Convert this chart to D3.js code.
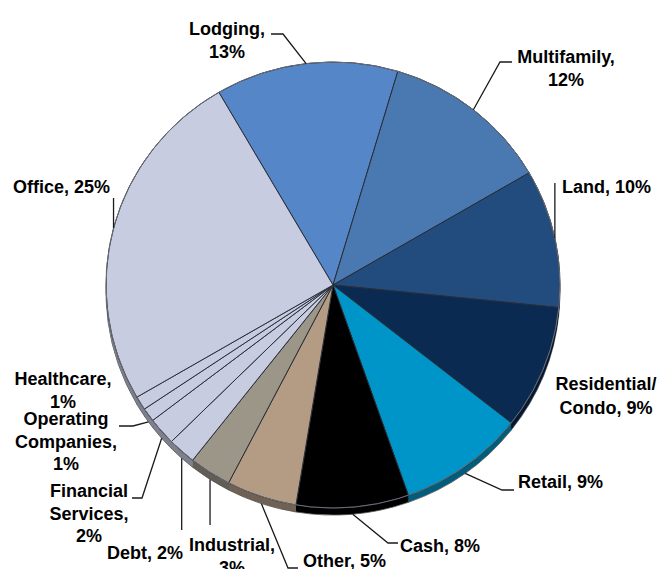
<!DOCTYPE html>
<html lang="en">
<head>
    <meta charset="UTF-8">
    <script src="https://cdn.jsdelivr.net/npm/d3@7"></script>
    <title>Portfolio by property type</title>
    <style>
        body { margin: 0; background: #fff; }
        text {
            font-family: "Liberation Sans", Arial, sans-serif;
            font-weight: bold;
            font-size: 18px;
            fill: #000;
        }
        .leader { fill: none; stroke: #1a1a1a; stroke-width: 1.3px; }
    </style>
</head>
<body>
<script>
    // slices, clockwise starting with Lodging
    const categories = ["Lodging", "Multifamily", "Land", "Residential/Condo", "Retail", "Cash",
        "Other", "Industrial", "Debt", "Financial Services", "Operating Companies", "Healthcare", "Office"]
    const values = [13, 12, 10, 9, 9, 8, 5, 3, 2, 2, 1, 1, 25]
    const colors = ["#5586c8", "#4a78b0", "#234c7e", "#0b2a52", "#0095c8", "#000000",
        "#b49c84", "#9c9688", "#c8cce0", "#c8cce0", "#c8cce0", "#c8cce0", "#c8cce0"]

    // label layout: text lines, anchor, first baseline, line gap, leader elbow points
    const labelLayout = {
        "Lodging":            {lines: ["Lodging,", "13%"], x: 227, y: 35, anchor: "middle", leader: [[283, 34], [271, 34]]},
        "Multifamily":        {lines: ["Multifamily,", "12%"], x: 566, y: 63, anchor: "middle", leader: [[500, 62], [512, 62]]},
        "Land":               {lines: ["Land, 10%"], x: 562, y: 193, anchor: "start", vertical: 183},
        "Residential/Condo":  {lines: ["Residential/", "Condo, 9%"], x: 606, y: 390, anchor: "middle", gap: 24},
        "Retail":             {lines: ["Retail, 9%"], x: 518, y: 488, anchor: "start", leader: [[502, 490], [514, 490]]},
        "Cash":               {lines: ["Cash, 8%"], x: 400, y: 552, anchor: "start", leader: [[388, 543], [398, 543]]},
        "Other":              {lines: ["Other, 5%"], x: 303, y: 567, anchor: "start", leader: [[288, 568], [298, 568]]},
        "Industrial":         {lines: ["Industrial,", "3%"], x: 232, y: 551, anchor: "middle", vertical: 525},
        "Debt":               {lines: ["Debt, 2%"], x: 183, y: 559, anchor: "end", vertical: 530},
        "Financial Services": {lines: ["Financial", "Services,", "2%"], x: 89, y: 497, anchor: "middle", leader: [[142, 498], [132, 498]]},
        "Operating Companies":{lines: ["Operating", "Companies,", "1%"], x: 66, y: 425, anchor: "middle", leader: [[133, 426], [119, 426]]},
        "Healthcare":         {lines: ["Healthcare,", "1%"], x: 63, y: 385, anchor: "middle"},
        "Office":             {lines: ["Office, 25%"], x: 13, y: 193, anchor: "start", vertical: 198}
    }

    const width = 660, height = 569
    const cx = 333, cy = 285, rx = 227, ry = 223, depth = 7
    const startDeg = -30.2

    const svg = d3.select("body").append("svg")
        .attr("width", width)
        .attr("height", height)

    const data = categories.map((c, i) => ({name: c, value: values[i], color: colors[i]}))

    const pie = d3.pie()
        .sort(null)
        .value(d => d.value)
        .startAngle(startDeg * Math.PI / 180)
        .endAngle(startDeg * Math.PI / 180 + 2 * Math.PI)
    const arcs = pie(data)

    const arc = d3.arc().innerRadius(0).outerRadius(rx)

    // side wall: stacked darker layers
    for (let i = depth; i >= 1; i--) {
        svg.append("g")
            .attr("transform", `translate(${cx},${cy + i}) scale(1,${ry / rx})`)
            .selectAll("path")
            .data(arcs)
            .join("path")
            .attr("d", arc)
            .attr("fill", d => d.data.color === "#000000" ? "#000" : d3.color(d.data.color).darker(1.3))
            .attr("stroke", i === depth ? "#555" : "none")
            .attr("stroke-width", 0.8)
            .attr("vector-effect", "non-scaling-stroke")
    }

    // top face
    svg.append("g")
        .attr("transform", `translate(${cx},${cy}) scale(1,${ry / rx})`)
        .selectAll("path")
        .data(arcs)
        .join("path")
        .attr("d", arc)
        .attr("fill", d => d.data.color)
        .attr("stroke", "#2b2f38")
        .attr("stroke-width", 1)
        .attr("vector-effect", "non-scaling-stroke")

    // outer rim
    svg.append("ellipse")
        .attr("cx", cx).attr("cy", cy)
        .attr("rx", rx).attr("ry", ry)
        .attr("fill", "none")
        .attr("stroke", "#6a6e78")
        .attr("stroke-width", 1)

    // labels and leaders
    arcs.forEach(a => {
        const L = labelLayout[a.data.name]
        const mid = (a.startAngle + a.endAngle) / 2
        let px = cx + rx * Math.sin(mid)
        let py = cy - ry * Math.cos(mid)
        if (Math.cos(mid) < 0) py += depth

        if (L.leader) {
            svg.append("path").attr("class", "leader")
                .attr("d", d3.line()([[px, py], ...L.leader]))
        } else if (L.vertical !== undefined) {
            svg.append("path").attr("class", "leader")
                .attr("d", d3.line()([[px, py], [px, L.vertical]]))
        }

        const gap = L.gap || 22.5
        const t = svg.append("text")
            .attr("text-anchor", L.anchor)
        L.lines.forEach((s, k) => {
            t.append("tspan")
                .attr("x", L.x)
                .attr("y", L.y + k * gap)
                .text(s)
        })
    })
</script>
</body>
</html>
